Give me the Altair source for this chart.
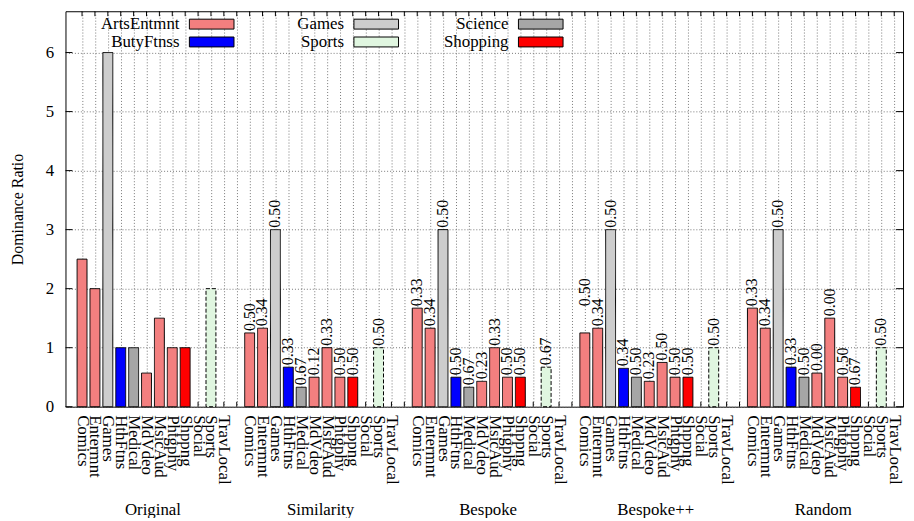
import altair as alt
import pandas as pd

# ---------------- data ----------------
categories = ["Comics", "Entermnt", "Games", "HthFtns", "Medical", "MdVdeo",
              "MsicAud", "Phtgphy", "Shppng", "Social", "Sports", "TravLocal"]
category_genre = ["ArtsEntmnt", "ArtsEntmnt", "Games", "ButyFtnss", "Science", "ArtsEntmnt",
                  "ArtsEntmnt", "ArtsEntmnt", "Shopping", "", "Sports", ""]
groups = ["Original", "Similarity", "Bespoke", "Bespoke++", "Random"]

original = [2.5, 2.0, 6.0, 1.0, 1.0, 0.57, 1.5, 1.0, 1.0, 0, 2.0, 0]
similarity = [1.25, 1.33, 3.0, 0.67, 0.33, 0.5, 1.0, 0.5, 0.5, 0, 1.0, 0]
bespoke = [1.67, 1.33, 3.0, 0.5, 0.33, 0.43, 1.0, 0.5, 0.5, 0, 0.67, 0]
bespoke_pp = [1.25, 1.33, 3.0, 0.65, 0.5, 0.43, 0.75, 0.5, 0.5, 0, 1.0, 0]
random_ = [1.67, 1.33, 3.0, 0.67, 0.5, 0.57, 1.5, 0.5, 0.33, 0, 1.0, 0]

original_labels = [""] * 12
similarity_labels = ["0.50", "0.34", "0.50", "0.33", "0.67", "0.12", "0.33", "0.50", "0.50", "", "0.50", ""]
bespoke_labels = ["0.33", "0.34", "0.50", "0.50", "0.67", "0.23", "0.33", "0.50", "0.50", "", "0.67", ""]
bespoke_pp_labels = ["0.50", "0.34", "0.50", "0.34", "0.50", "0.23", "0.50", "0.50", "0.50", "", "0.50", ""]
random_labels = ["0.33", "0.34", "0.50", "0.33", "0.50", "0.00", "0.00", "0.50", "0.67", "", "0.50", ""]

# one label in the source sits at a different height than its bar
label_anchor_override = {("Bespoke++", "Comics"): 1.67}

legend_names = ["ArtsEntmnt", "ButyFtnss", "Games", "Sports", "Science", "Shopping"]
y_ticks = [0, 1, 2, 3, 4, 5, 6]

# ---------------- styles ----------------
genre_domain = ["ArtsEntmnt", "ButyFtnss", "Games", "Sports", "Science", "Shopping"]
genre_fill = ["#f37f7f", "#0000ff", "#cdcdcd", "#e0f6e0", "#a6a6a6", "#ff0000"]
genre_dash = [[1, 0], [1, 0], [1, 0], [4, 2], [1, 0], [1, 0]]
FONT = "Liberation Serif"
SLOTS = len(categories) + 1

all_values = [original, similarity, bespoke, bespoke_pp, random_]
all_labels = [original_labels, similarity_labels, bespoke_labels, bespoke_pp_labels, random_labels]

rows = []
for gi, g in enumerate(groups):
    for ci, c in enumerate(categories):
        v = all_values[gi][ci]
        rows.append({
            "group": g,
            "category": c,
            "genre": category_genre[ci],
            "slot": gi * SLOTS + ci,
            "value": v,
            "label": all_labels[gi][ci],
            "label_y": label_anchor_override.get((g, c), v),
        })
df = pd.DataFrame(rows)
bars_df = df[df["value"] > 0]
labels_df = df[df["label"] != ""]

n_slots = len(groups) * SLOTS - 1
group_df = pd.DataFrame({"group": groups,
                         "center": [gi * SLOTS + (len(categories) - 1) / 2 for gi in range(len(groups))]})
slot_df = pd.DataFrame({"slot": list(range(n_slots))})
ytick_df = pd.DataFrame({"v": y_ticks})
legend_df = pd.DataFrame({"genre": legend_names, "idx": list(range(len(legend_names)))})

W, H = 845, 399
xscale = alt.Scale(domain=[-0.9, 63.3], nice=False, zero=False)
yscale = alt.Scale(domain=[0, 6.7], nice=False)
fill_scale = alt.Scale(domain=genre_domain, range=genre_fill)
dash_scale = alt.Scale(domain=genre_domain, range=genre_dash)

label_expr = "[" + ",".join("'" + c + "'" for c in categories) + ",''][datum.value % " + str(SLOTS) + "]"

X_AXIS = alt.Axis(values=list(range(n_slots)), labelExpr=label_expr,
                  labelAngle=90, labelAlign="left", labelBaseline="middle",
                  labelFont=FONT, labelFontSize=17, labelColor="black",
                  labelPadding=8, labelOverlap=False, labelFlush=False, labelBound=False,
                  ticks=False, domain=False, grid=True,
                  gridDash=[1, 2], gridColor="#777777", gridWidth=1,
                  title=None)
Y_AXIS = alt.Axis(values=y_ticks, format="d", labelFont=FONT, labelFontSize=17, labelColor="black",
                  labelPadding=12, labelOverlap=False, ticks=False, domain=False, grid=True,
                  gridDash=[1, 2], gridColor="#777777", gridWidth=1,
                  title="Dominance Ratio", titleFont=FONT, titleFontSize=16,
                  titleFontWeight="normal", titleColor="black", titlePadding=20)


def X(field):
    return alt.X(field, scale=xscale, axis=X_AXIS)


def Y(field):
    return alt.Y(field, scale=yscale, axis=Y_AXIS)


top_ticks = alt.Chart(slot_df).mark_rule(color="black", strokeWidth=1).encode(
    x=X("slot:Q"), y=alt.value(0), y2=alt.value(5))
bottom_ticks = alt.Chart(slot_df).mark_rule(color="black", strokeWidth=1).encode(
    x=X("slot:Q"), y=alt.value(H - 5), y2=alt.value(H))
left_ticks = alt.Chart(ytick_df).mark_rule(color="black", strokeWidth=1).encode(
    y=Y("v:Q"), x=alt.value(0), x2=alt.value(7))
right_ticks = alt.Chart(ytick_df).mark_rule(color="black", strokeWidth=1).encode(
    y=Y("v:Q"), x=alt.value(W - 7), x2=alt.value(W))

bars = alt.Chart(bars_df).mark_bar(size=10, stroke="black", strokeWidth=1).encode(
    x=X("slot:Q"),
    y=Y("value:Q"),
    fill=alt.Fill("genre:N", scale=fill_scale, legend=None),
    strokeDash=alt.StrokeDash("genre:N", scale=dash_scale, legend=None),
)

value_labels = alt.Chart(labels_df).mark_text(
    angle=270, align="left", baseline="middle", dx=2, font=FONT, fontSize=16, color="black"
).encode(
    x=X("slot:Q"),
    y=Y("label_y:Q"),
    text="label:N",
)

group_labels = alt.Chart(group_df).mark_text(
    baseline="middle", align="center", font=FONT, fontSize=17, color="black"
).encode(
    x=X("center:Q"),
    y=alt.value(H + 104),
    text="group:N",
)

leg = alt.Chart(legend_df).transform_calculate(
    col="floor(datum.idx / 2)", row="datum.idx % 2"
).transform_calculate(
    sx="125 + 166 * datum.col", sx2="125 + 166 * datum.col + 45",
    sy="8 + 18 * datum.row", sy2="8 + 18 * datum.row + 10",
    tx="115 + 166 * datum.col", ty="13 + 18 * datum.row",
)
leg_swatch = leg.mark_rect(stroke="black", strokeWidth=1).encode(
    x=alt.X("sx:Q", scale=None), x2="sx2:Q",
    y=alt.Y("sy:Q", scale=None), y2="sy2:Q",
    fill=alt.Fill("genre:N", scale=fill_scale, legend=None),
    strokeDash=alt.StrokeDash("genre:N", scale=dash_scale, legend=None),
)
leg_text = leg.mark_text(align="right", baseline="middle", font=FONT, fontSize=17, color="black").encode(
    x=alt.X("tx:Q", scale=None), y=alt.Y("ty:Q", scale=None), text="genre:N")

chart = alt.layer(
    top_ticks, bottom_ticks, left_ticks, right_ticks,
    bars, value_labels, group_labels, leg_swatch, leg_text
).properties(
    width=W, height=H,
    background="white",
    autosize=alt.AutoSizeParams(type="none"),
    padding={"left": 58, "top": 1, "right": 3, "bottom": 110},
).configure_axis(
    labelOverlap=False
).configure_view(
    stroke="black", strokeWidth=1
)

chart.save("out.html", embed_options={"renderer": "svg", "actions": False})
